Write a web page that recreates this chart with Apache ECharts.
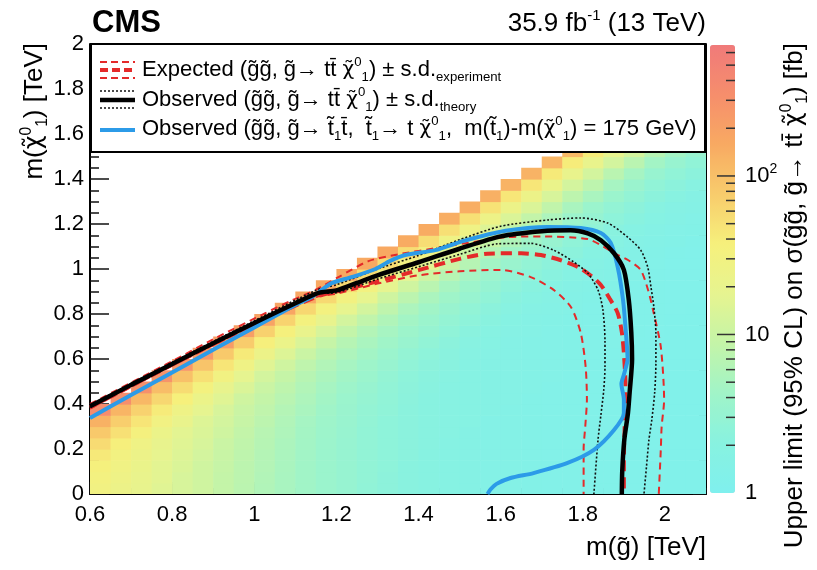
<!DOCTYPE html>
<html><head><meta charset="utf-8">
<script src="https://cdn.jsdelivr.net/npm/echarts@6/dist/echarts.min.js"></script>
<style>html,body{margin:0;padding:0;background:#fff}#c{width:817px;height:570px}</style>
</head><body><div id="c"></div>
<script>
// ---------------- data ----------------
const gluinoBins = [0.625,0.675,0.725,0.775,0.825,0.875,0.925,0.975,1.025,1.075,1.125,1.175,1.225,1.275,1.325,1.375,1.425,1.475,1.525,1.575,1.625,1.675,1.725,1.775,1.825,1.875,1.925,1.975,2.025,2.075];
const lspBins = [0.025,0.075,0.125,0.175,0.225,0.275,0.325,0.375,0.425,0.475,0.525,0.575,0.625,0.675,0.725,0.775,0.825,0.875,0.925,0.975,1.025,1.075,1.125,1.175,1.225,1.275,1.325,1.375,1.425,1.475,1.525];
// upper limit [fb] per LSP row (bottom to top); each row ends at the last gluino bin
const upperLimitRows = [
 [30,24,20,16,13,11,8.7,7.3,6.0,5.1,4.3,3.7,3.2,2.7,2.4,2.15,1.95,1.8,1.65,1.55,1.48,1.42,1.38,1.34,1.3,1.28,1.25,1.23,1.2,1.2],
 [32,26,21,17,13,11,8.8,7.4,6.1,5.1,4.3,3.7,3.2,2.8,2.4,2.15,1.95,1.8,1.65,1.55,1.48,1.42,1.38,1.34,1.3,1.28,1.25,1.23,1.2,1.2],
 [36,28,22,17,14,11,9.1,7.5,6.3,5.2,4.3,3.7,3.2,2.8,2.5,2.15,1.95,1.8,1.65,1.55,1.48,1.42,1.38,1.34,1.3,1.28,1.25,1.23,1.2,1.2],
 [43,31,24,19,15,12,9.5,7.8,6.4,5.3,4.4,3.7,3.2,2.8,2.5,2.25,1.95,1.8,1.65,1.55,1.48,1.42,1.38,1.34,1.3,1.28,1.25,1.23,1.2,1.2],
 [57,38,27,20,16,13,10,8.1,6.6,5.4,4.5,3.8,3.2,2.8,2.5,2.25,2.05,1.8,1.65,1.55,1.48,1.42,1.38,1.34,1.3,1.28,1.25,1.23,1.2,1.2],
 [81,51,34,23,17,14,11,8.6,6.9,5.7,4.6,3.9,3.3,2.8,2.5,2.25,2.05,1.9,1.65,1.55,1.48,1.42,1.38,1.34,1.3,1.28,1.25,1.23,1.2,1.2],
 [135,74,46,29,21,15,12,9.3,7.4,6.0,4.8,4.0,3.4,2.9,2.5,2.25,2.05,1.9,1.75,1.55,1.48,1.42,1.38,1.34,1.3,1.28,1.25,1.23,1.2,1.2],
 [345,126,68,41,26,18,13,10,8.0,6.4,5.2,4.2,3.5,3.0,2.6,2.25,2.05,1.9,1.75,1.65,1.48,1.42,1.38,1.34,1.3,1.28,1.25,1.23,1.2,1.2],
 [325,117,61,37,23,16,11,8.8,7.0,5.6,4.5,3.7,3.1,2.7,2.3,2.05,1.9,1.75,1.65,1.56,1.42,1.38,1.34,1.3,1.28,1.25,1.23,1.2,1.2],
 [306,105,55,33,20,14,9.9,7.8,6.1,4.9,4.0,3.3,2.8,2.4,2.1,1.9,1.75,1.65,1.56,1.5,1.38,1.34,1.3,1.28,1.25,1.23,1.2,1.2],
 [279,97,51,30,18,12,8.9,6.8,5.4,4.4,3.6,3.0,2.5,2.2,2.0,1.75,1.65,1.56,1.5,1.45,1.34,1.3,1.28,1.25,1.23,1.2,1.2],
 [260,90,46,27,16,11,7.9,6.1,4.9,4.0,3.3,2.7,2.3,2.1,1.8,1.65,1.56,1.5,1.45,1.4,1.3,1.28,1.25,1.23,1.2,1.2],
 [242,82,42,24,15,10,7.1,5.6,4.5,3.7,3.0,2.5,2.2,1.9,1.7,1.56,1.5,1.45,1.4,1.37,1.28,1.25,1.23,1.2,1.2],
 [224,76,38,23,14,9.1,6.6,5.2,4.2,3.4,2.8,2.3,2.0,1.8,1.6,1.5,1.45,1.4,1.37,1.35,1.25,1.23,1.2,1.2],
 [207,69,36,21,13,8.6,6.2,4.9,3.9,3.2,2.6,2.2,1.9,1.7,1.6,1.45,1.4,1.37,1.35,1.3,1.23,1.2,1.2],
 [190,66,33,20,12,8.2,5.9,4.5,3.7,3.0,2.5,2.1,1.8,1.6,1.5,1.4,1.37,1.35,1.3,1.29,1.2,1.2],
 [181,62,32,19,12,7.9,5.5,4.3,3.4,2.8,2.3,2.0,1.7,1.6,1.5,1.37,1.35,1.3,1.29,1.26,1.2],
 [172,59,31,19,11,7.4,5.3,4.1,3.3,2.7,2.2,1.9,1.7,1.55,1.4,1.35,1.3,1.29,1.26,1.26],
 [164,58,31,18,11,7.2,5.0,3.9,3.1,2.5,2.1,1.8,1.6,1.5,1.4,1.3,1.29,1.26,1.26],
 [163,58,30,17,10.5,6.8,4.8,3.7,2.9,2.5,2.1,1.8,1.6,1.5,1.4,1.29,1.26,1.26],
 [163,57,29,17,9.9,6.6,4.5,3.5,2.9,2.4,2.0,1.7,1.5,1.45,1.35,1.26,1.26],
 [162,54,29,16,9.8,6.2,4.3,3.4,2.7,2.3,1.9,1.7,1.5,1.4,1.3,1.26],
 [154,54,27,16,9.2,5.9,4.2,3.3,2.6,2.2,1.9,1.6,1.5,1.4,1.3],
 [154,52,27,15,8.7,5.8,4.0,3.1,2.6,2.1,1.8,1.6,1.45,1.4],
 [146,51,25,14,8.6,5.5,3.8,3.1,2.5,2.1,1.8,1.6,1.45],
 [146,49,24,14,8.2,5.2,3.7,2.9,2.4,2.0,1.7,1.6],
 [138,45,24,13,7.6,5.2,3.6,2.9,2.3,2.0,1.7],
 [129,45,22,12,7.6,4.9,3.5,2.7,2.3,2.0],
 [129,42,21,12,7.2,4.8,3.3,2.7,2.3],
 [121,40,21,12,7.1,4.5,3.3,2.7],
 [113,40,19,12,6.6,4.5,3.3]
];
const expectedCurve = [[0.6,0.385],[0.8,0.575],[1.0,0.755],[1.156,0.88],[1.2,0.9],[1.3,0.945],[1.4,0.995],[1.5,1.045],[1.568,1.068],[1.65,1.07],[1.698,1.062],[1.745,1.04],[1.788,1.009],[1.82,0.97],[1.844,0.929],[1.865,0.87],[1.885,0.804],[1.895,0.72],[1.9,0.627],[1.904,0.476],[1.902,0.3],[1.9,0.15],[1.9,0]];
const expectedMinus = [[0.6,0.38],[0.8,0.57],[1.0,0.75],[1.15,0.875],[1.2,0.89],[1.3,0.935],[1.4,0.972],[1.5,0.99],[1.6,0.996],[1.673,0.964],[1.729,0.907],[1.771,0.831],[1.795,0.716],[1.807,0.564],[1.81,0.42],[1.806,0.3],[1.802,0.2],[1.802,0]];
const expectedPlus = [[0.6,0.4],[0.8,0.59],[0.9,0.688],[1.027,0.804],[1.093,0.862],[1.149,0.907],[1.205,0.964],[1.278,1.035],[1.35,1.065],[1.45,1.095],[1.55,1.125],[1.617,1.142],[1.7,1.145],[1.812,1.133],[1.85,1.1],[1.876,1.071],[1.91,1.04],[1.941,0.996],[1.96,0.9],[1.971,0.818],[1.99,0.653],[1.998,0.418],[1.992,0.3],[1.99,0.2],[1.985,0]];
const observedCurve = [[0.6,0.39],[0.7,0.485],[0.8,0.578],[0.9,0.67],[1.0,0.76],[1.1,0.848],[1.155,0.893],[1.2,0.905],[1.25,0.938],[1.3,0.972],[1.4,1.03],[1.5,1.09],[1.6,1.145],[1.7,1.168],[1.77,1.172],[1.812,1.158],[1.844,1.128],[1.876,1.07],[1.9,0.996],[1.912,0.862],[1.918,0.72],[1.92,0.6],[1.914,0.45],[1.91,0.36],[1.901,0.24],[1.896,0.1],[1.895,0]];
const observedPlus = [[0.6,0.395],[0.8,0.585],[1.0,0.77],[1.15,0.905],[1.2,0.93],[1.3,1.0],[1.4,1.06],[1.5,1.13],[1.6,1.19],[1.715,1.218],[1.795,1.227],[1.861,1.204],[1.909,1.142],[1.941,1.084],[1.958,1.009],[1.966,0.92],[1.973,0.831],[1.978,0.716],[1.978,0.58],[1.975,0.45],[1.968,0.33],[1.961,0.24],[1.955,0.12],[1.949,0]];
const observedMinus = [[0.6,0.385],[0.8,0.575],[1.0,0.755],[1.15,0.89],[1.2,0.895],[1.3,0.955],[1.4,1.01],[1.5,1.065],[1.593,1.112],[1.673,1.114],[1.729,1.084],[1.778,1.031],[1.812,0.982],[1.837,0.907],[1.849,0.818],[1.854,0.68],[1.854,0.564],[1.851,0.462],[1.844,0.35],[1.837,0.24],[1.827,0]];
const stopCurve = [[0.6,0.338],[0.7,0.44],[0.8,0.54],[0.912,0.653],[1.0,0.74],[1.1,0.84],[1.141,0.876],[1.17,0.915],[1.19,0.938],[1.239,0.965],[1.295,1.0],[1.33,1.035],[1.368,1.062],[1.441,1.084],[1.51,1.125],[1.612,1.17],[1.715,1.187],[1.795,1.182],[1.844,1.16],[1.868,1.116],[1.885,1.009],[1.898,0.862],[1.905,0.716],[1.909,0.6],[1.9,0.53],[1.894,0.49],[1.9,0.42],[1.9,0.36],[1.876,0.284],[1.827,0.196],[1.763,0.138],[1.68,0.093],[1.624,0.071],[1.59,0.045],[1.575,0.02],[1.568,0]];
const colorbarMinorTicks = [2,3,4,5,6,7,8,9,20,30,40,50,60,70,80,90,200,300,400,500,600];
const colorbarMajorTicks = [10,100];
const colorbarMax = 670;

// ---------------- build ----------------
const FONT = '"Liberation Sans", Arial, Helvetica, sans-serif';
const GREEK = '"DejaVu Sans", sans-serif';
const heatData = [];
upperLimitRows.forEach((row, j) => {
  const start = gluinoBins.length - row.length;
  row.forEach((v, c) => heatData.push([gluinoBins[start + c], lspBins[j], Math.log10(v), v]));
});
const halfX = (gluinoBins[1] - gluinoBins[0]) / 2;
const halfY = (lspBins[1] - lspBins[0]) / 2;

function richSet(size, lh) {
  return {
    n: {fontSize: size, fontFamily: FONT, color: '#000', lineHeight: lh},
    c: {fontSize: size * 0.92, fontFamily: GREEK, color: '#000', lineHeight: lh},
    sp: {fontSize: size * 0.6, fontFamily: FONT, color: '#000', lineHeight: lh, verticalAlign: 'top'},
    sb: {fontSize: size * 0.6, fontFamily: FONT, color: '#000', lineHeight: lh, verticalAlign: 'bottom'}
  };
}
const CHI = '{c|\u03c7\u0303}{sp|0}{sb|1}';
const G = 'g\u0303';

const chart = echarts.init(document.getElementById('c'), null, {renderer: 'canvas'});
const tickStyle = {color: '#111', width: 1.5};
const lbl = {fontSize: 22, fontFamily: FONT, color: '#000'};
function lineSeries(data, color, width, type, z) {
  return {type: 'line', xAxisIndex: 0, yAxisIndex: 0, data: data, showSymbol: false, smooth: 0.25,
    lineStyle: {color: color, width: width, type: type, cap: 'butt'}, z: z, silent: true, clip: true};
}
function tickSeries(values, len) {
  return {type: 'custom', xAxisIndex: 2, yAxisIndex: 2, silent: true, z: 5,
    data: values.map(v => [1, v]), encode: {x: 0, y: 1},
    renderItem: (p, api) => {
      const pt = api.coord([1, api.value(1)]);
      return {type: 'line', shape: {x1: pt[0] - len, y1: pt[1], x2: pt[0], y2: pt[1]},
        style: {stroke: '#333', lineWidth: 1.5}};
    }};
}
const RED = '#e42a2a', BLUE = '#2c9be8';
const option = {
  animation: false,
  backgroundColor: '#fff',
  grid: [
    {left: 90, top: 44, width: 616, height: 450, show: false},
    {left: 710, top: 45, width: 25, height: 448, show: false}
  ],
  xAxis: [
    {gridIndex: 0, type: 'value', min: 0.6, max: 2.1, interval: 0.2, position: 'bottom',
      axisLine: {show: true, onZero: false, lineStyle: {color: '#000', width: 2}},
      axisTick: {inside: true, length: 12, lineStyle: tickStyle},
      axisLabel: Object.assign({margin: 10, showMaxLabel: false, formatter: v => String(Math.round(v * 10) / 10)}, lbl),
      splitLine: {show: false}},
    {gridIndex: 0, type: 'value', min: 0.6, max: 2.1, interval: 0.05, position: 'bottom',
      axisLine: {show: false, onZero: false}, axisTick: {inside: true, length: 6, lineStyle: tickStyle},
      axisLabel: {show: false}, splitLine: {show: false}},
    {gridIndex: 1, type: 'value', min: 0, max: 1, show: false}
  ],
  yAxis: [
    {gridIndex: 0, type: 'value', min: 0, max: 2, interval: 0.2, position: 'left',
      axisLine: {show: true, onZero: false, lineStyle: {color: '#000', width: 2}},
      axisTick: {inside: true, length: 19, lineStyle: tickStyle},
      minorTick: {show: true, splitNumber: 4, length: 9, lineStyle: tickStyle},
      axisLabel: Object.assign({margin: 6, formatter: v => String(Math.round(v * 10) / 10)}, lbl),
      splitLine: {show: false}},
    {gridIndex: 0, type: 'value', min: 0, max: 2, interval: 0.2, position: 'right',
      axisLine: {show: true, onZero: false, lineStyle: {color: '#000', width: 2}},
      axisTick: {inside: true, length: 13, lineStyle: tickStyle},
      minorTick: {show: true, splitNumber: 4, length: 7, lineStyle: tickStyle},
      axisLabel: {show: false}, splitLine: {show: false}},
    {gridIndex: 1, type: 'log', logBase: 10, min: 1, max: colorbarMax, position: 'right',
      axisLine: {show: false}, axisTick: {show: false}, splitLine: {show: false},
      axisLabel: {margin: 10, fontSize: 22, fontFamily: FONT, color: '#000', showMaxLabel: false,
        formatter: v => v >= 99 && v < 101 ? '{b|10}{s|2}' : String(Math.round(v)),
        rich: {b: {fontSize: 22, fontFamily: FONT, color: '#000'}, s: {fontSize: 14, fontFamily: FONT, color: '#000', verticalAlign: 'top', lineHeight: 28}}}}
  ],
  visualMap: {
    type: 'continuous', seriesIndex: 0, dimension: 2, min: 0, max: Math.log10(colorbarMax),
    calculable: false, hoverLink: false, orient: 'vertical', left: 710, top: 45, padding: 0,
    itemWidth: 25, itemHeight: 448, text: null,
    inRange: {color: ['#7ff0ee', '#88f2e0', '#a0f4c8', '#c4f4a8', '#e6f490', '#f6f07c', '#f8cc6c', '#f8aa62', '#f68e6c', '#f07a7a']}
  },
  series: [
    {type: 'custom', xAxisIndex: 0, yAxisIndex: 0, data: heatData, encode: {x: 0, y: 1}, silent: true, z: 1, clip: true,
      renderItem: (p, api) => {
        const x = api.value(0), y = api.value(1);
        const a = api.coord([x - halfX, y + halfY]);
        const b = api.coord([x + halfX, y - halfY]);
        return {type: 'rect', shape: {x: a[0], y: a[1], width: b[0] - a[0] + 0.6, height: b[1] - a[1] + 0.6},
          style: {fill: api.visual('color')}};
      }},
    lineSeries(expectedMinus, RED, 2, [7, 5], 3),
    lineSeries(expectedPlus, RED, 2, [7, 5], 3),
    lineSeries(expectedCurve, RED, 4, [11, 6], 4),
    lineSeries(observedMinus, '#111', 1.6, [2, 2], 5),
    lineSeries(observedPlus, '#111', 1.6, [2, 2], 5),
    lineSeries(stopCurve, BLUE, 4, 'solid', 6),
    lineSeries(observedCurve, '#000', 4.5, 'solid', 7),
    tickSeries(colorbarMinorTicks, 9),
    tickSeries(colorbarMajorTicks, 18)
  ],
  graphic: {elements: [
    {type: 'rect', z: 100, shape: {x: 91, y: 44, width: 614, height: 108}, style: {fill: '#fff', stroke: '#000', lineWidth: 2}},
    // legend symbols
    {type: 'line', z: 101, shape: {x1: 100, y1: 62, x2: 135, y2: 62}, style: {stroke: RED, lineWidth: 2, lineDash: [7, 4]}},
    {type: 'line', z: 101, shape: {x1: 100, y1: 70, x2: 135, y2: 70}, style: {stroke: RED, lineWidth: 4, lineDash: [8, 4]}},
    {type: 'line', z: 101, shape: {x1: 100, y1: 78, x2: 135, y2: 78}, style: {stroke: RED, lineWidth: 2, lineDash: [7, 4]}},
    {type: 'line', z: 101, shape: {x1: 100, y1: 91, x2: 135, y2: 91}, style: {stroke: '#111', lineWidth: 1.5, lineDash: [2, 2]}},
    {type: 'line', z: 101, shape: {x1: 100, y1: 100, x2: 135, y2: 100}, style: {stroke: '#000', lineWidth: 4.5}},
    {type: 'line', z: 101, shape: {x1: 100, y1: 108, x2: 135, y2: 108}, style: {stroke: '#111', lineWidth: 1.5, lineDash: [2, 2]}},
    {type: 'line', z: 101, shape: {x1: 100, y1: 130, x2: 135, y2: 130}, style: {stroke: BLUE, lineWidth: 4}},
    // legend texts
    {type: 'text', z: 101, x: 142, y: 70, style: {verticalAlign: 'middle', rich: richSet(22, 28),
      text: '{n|Expected (' + G + G + ', ' + G + '\u2192 tt\u0304 }' + CHI + '{n|) \u00b1 s.d.}{sb|experiment}'}},
    {type: 'text', z: 101, x: 142, y: 100, style: {verticalAlign: 'middle', rich: richSet(22, 28),
      text: '{n|Observed (' + G + G + ', ' + G + '\u2192 tt\u0304 }' + CHI + '{n|) \u00b1 s.d.}{sb|theory}'}},
    {type: 'text', z: 101, x: 142, y: 129, style: {verticalAlign: 'middle', rich: richSet(22, 28),
      text: '{n|Observed (' + G + G + ', ' + G + '\u2192 t\u0303}{sb|1}{n|t\u0304,  t\u0303}{sb|1}{n|\u2192 t }' + CHI + '{n|,  m(t\u0303}{sb|1}{n|)-m(}' + CHI + '{n|) = 175 GeV)}'}},
    // header
    {type: 'text', z: 101, x: 92, y: 23, style: {text: 'CMS', fontSize: 31, fontWeight: 'bold', fontFamily: FONT, fill: '#000', verticalAlign: 'middle'}},
    {type: 'text', z: 101, x: 706, y: 24, style: {text: '{n|35.9 fb}{s|-1}{n| (13 TeV)}', align: 'right', verticalAlign: 'middle',
      rich: {n: {fontSize: 26, fontFamily: FONT, color: '#000', lineHeight: 32}, s: {fontSize: 15, fontFamily: FONT, color: '#000', verticalAlign: 'top', lineHeight: 32}}}},
    // axis titles
    {type: 'text', z: 101, x: 706, y: 548, style: {text: 'm(g\u0303) [TeV]', align: 'right', verticalAlign: 'middle', fontSize: 26, fontFamily: FONT, fill: '#000'}},
    {type: 'text', z: 101, x: 35, y: 43, rotation: Math.PI / 2, style: {align: 'right', verticalAlign: 'middle', rich: richSet(26, 32),
      text: '{n|m(}' + CHI + '{n|) [TeV]}'}},
    {type: 'text', z: 101, x: 795, y: 43, rotation: Math.PI / 2, style: {align: 'right', verticalAlign: 'middle', rich: richSet(26, 32),
      text: '{n|Upper limit (95% CL) on \u03c3(' + G + G + ', ' + G + '\u2192 tt\u0304 }' + CHI + '{n|) [fb]}'}}
  ]}
};
chart.setOption(option);
</script></body></html>
